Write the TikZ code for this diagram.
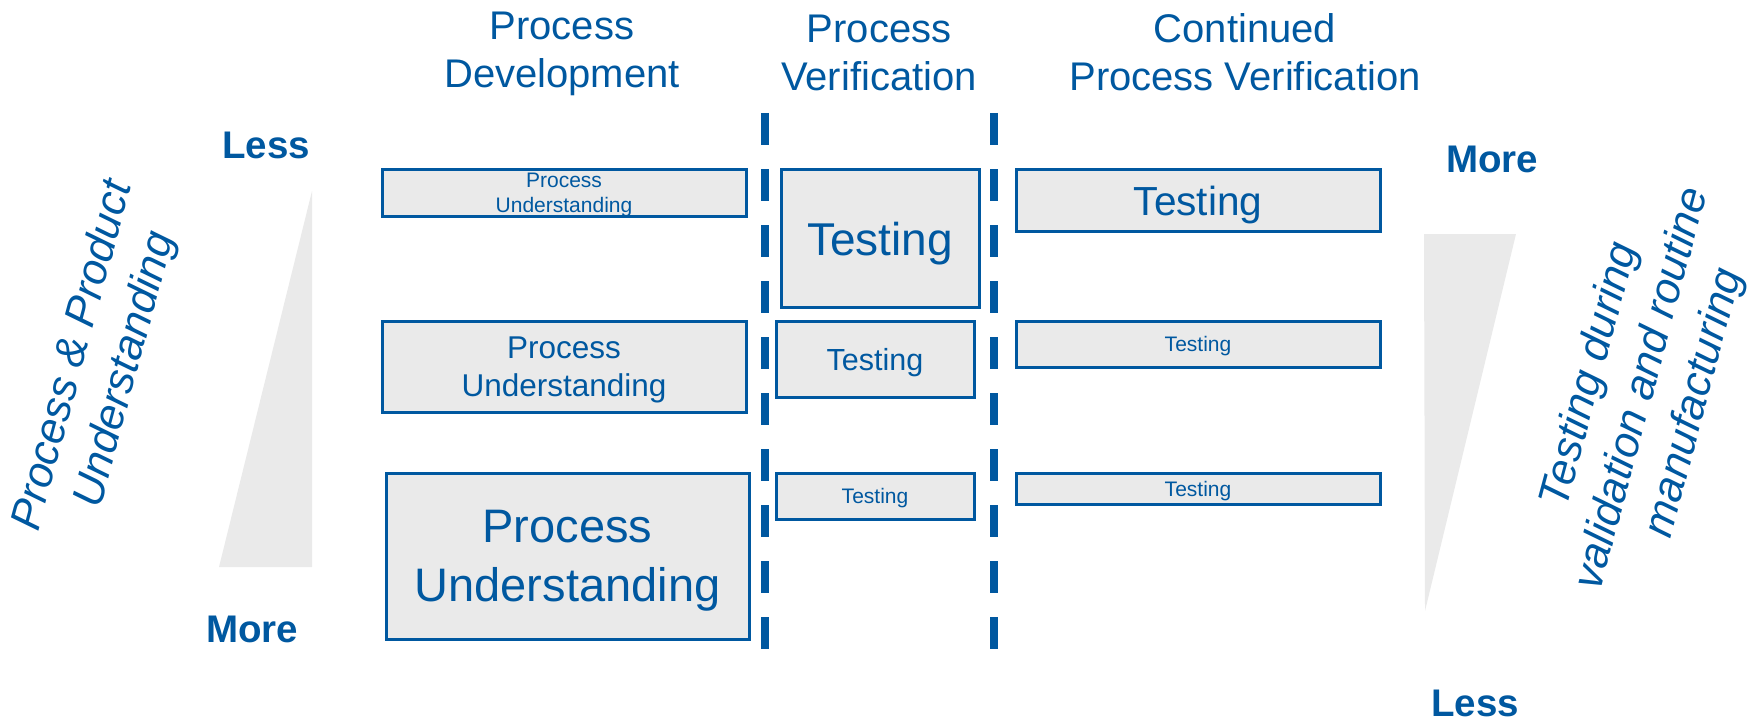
\documentclass[tikz,border=0pt]{standalone}
\usepackage{fontspec}
\setmainfont{Liberation Sans}
\definecolor{pvblue}{RGB}{0,88,160}
\definecolor{boxgray}{RGB}{234,234,234}
\newcommand\fsz[2]{\fontsize{#1bp}{#2bp}\selectfont}

\begin{document}
\begin{tikzpicture}[x=1bp,y=-1bp,
  box/.style={draw=pvblue,line width=3bp,fill=boxgray,text=pvblue,inner sep=0pt,text depth=0pt,align=center},
  head/.style={text=pvblue,align=center,font=\fsz{40}{48}},
  amount/.style={text=pvblue,anchor=base,font=\bfseries\fsz{38.5}{46}},
  side/.style={text=pvblue,align=center,rotate=75,font=\itshape\fsz{43.5}{54}},
  wedge/.style={fill=boxgray},
  divider/.style={draw=pvblue,line width=8bp,dash pattern=on 32bp off 24bp}]
\useasboundingbox (0,0) rectangle (1752,721);

\node[head] (hdev) at (562,54) {Process\\Development};
\node[head] (hver) at (879,53) {Process\\Verification};
\node[head] (hcpv) at (1245,52) {Continued\\Process Verification};

\fill[wedge] (219,567) -- (312,191) -- (312,567) -- cycle;
\fill[wedge] (1424,234) -- (1516,234) -- (1425,611) -- cycle;

\node[amount] (lessl) at (266,159) {Less};
\node[amount] (morel) at (252,642) {More};
\node[amount] (morer) at (1492,173) {More};
\node[amount] (lessr) at (1475,716) {Less};

\node[side] (ppu) at (100,363) {Process \& Product\\Understanding};
\node[side] (tvr) at (1643,389) {Testing during\\validation and routine\\manufacturing};

\draw[divider] (765,113) -- (765,649);
\draw[divider] (993.5,113) -- (993.5,649);

\node[box,minimum width=364bp,minimum height=46bp,font=\fsz{21}{25}] (pu1) at (564,193) {Process\\Understanding};
\node[box,minimum width=364bp,minimum height=91bp,font=\fsz{31.5}{38}] (pu2) at (564,366.5) {Process\\Understanding};
\node[box,minimum width=363bp,minimum height=166bp,font=\fsz{47}{59}] (pu3) at (567.5,556) {Process\\Understanding};

\node[box,minimum width=198bp,minimum height=137bp,font=\fsz{46}{55}] (pv1) at (880,238.5) {Testing};
\node[box,minimum width=198bp,minimum height=76bp,font=\fsz{30.5}{36}] (pv2) at (875,359) {Testing};
\node[box,minimum width=198bp,minimum height=46bp,font=\fsz{21}{25}] (pv3) at (875,496) {Testing};

\node[box,minimum width=364bp,minimum height=61bp,font=\fsz{40.6}{48}] (cpv1) at (1198,200.5) {Testing};
\node[box,minimum width=364bp,minimum height=46bp,font=\fsz{21}{25}] (cpv2) at (1198,344) {Testing};
\node[box,minimum width=364bp,minimum height=31bp,font=\fsz{21}{25}] (cpv3) at (1198,488.5) {Testing};
\end{tikzpicture}
\end{document}
